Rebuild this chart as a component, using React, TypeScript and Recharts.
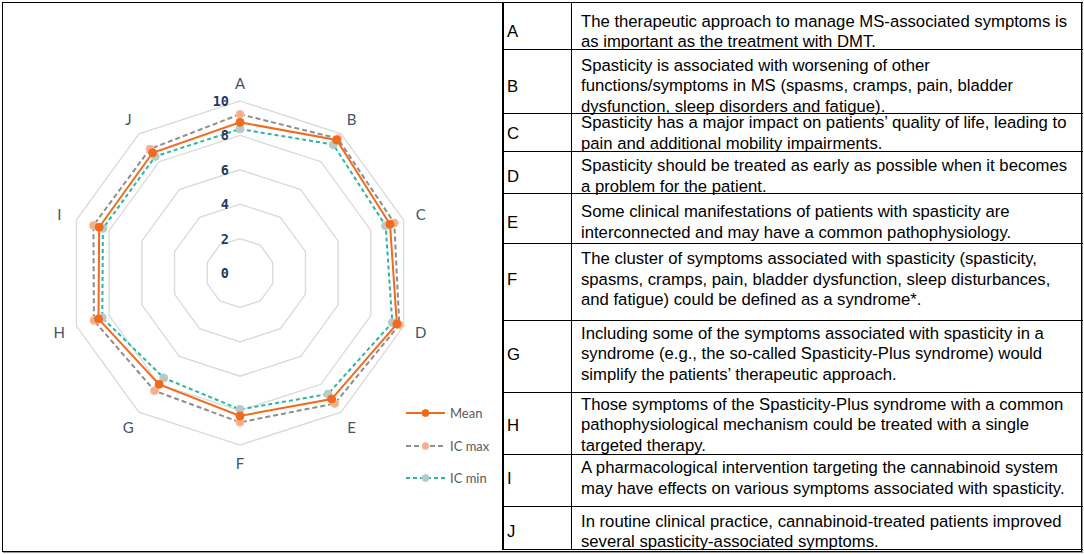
import React from 'react'
import { RadarChart, Radar, PolarGrid, PolarAngleAxis, PolarRadiusAxis, Legend } from 'recharts'

// statements A..J, scored 0-10
const CATEGORIES = ['A', 'B', 'C', 'D', 'E', 'F', 'G', 'H', 'I', 'J']
const MEAN = [8.76, 9.56, 9.17, 9.59, 9.06, 8.31, 8.0, 8.65, 8.61, 8.64]
const IC_MAX = [9.23, 9.67, 9.43, 9.74, 9.38, 8.68, 8.46, 8.93, 8.96, 8.91]
const IC_MIN = [8.37, 9.23, 8.9, 9.31, 8.7, 7.93, 7.54, 8.42, 8.38, 8.38]
const RADIUS_TICKS = [0, 2, 4, 6, 8, 10]

const STATEMENTS = [
  'The therapeutic approach to manage MS-associated symptoms is\nas important as the treatment with DMT.',
  'Spasticity is associated with worsening of other\nfunctions/symptoms in MS (spasms, cramps, pain, bladder\ndysfunction, sleep disorders and fatigue).',
  'Spasticity has a major impact on patients’ quality of life, leading to\npain and additional mobility impairments.',
  'Spasticity should be treated as early as possible when it becomes\na problem for the patient.',
  'Some clinical manifestations of patients with spasticity are\ninterconnected and may have a common pathophysiology.',
  'The cluster of symptoms associated with spasticity (spasticity,\nspasms, cramps, pain, bladder dysfunction, sleep disturbances,\nand fatigue) could be defined as a syndrome*.',
  'Including some of the symptoms associated with spasticity in a\nsyndrome (e.g., the so-called Spasticity-Plus syndrome) would\nsimplify the patients’ therapeutic approach.',
  'Those symptoms of the Spasticity-Plus syndrome with a common\npathophysiological mechanism could be treated with a single\ntargeted therapy.',
  'A pharmacological intervention targeting the cannabinoid system\nmay have effects on various symptoms associated with spasticity.',
  'In routine clinical practice, cannabinoid-treated patients improved\nseveral spasticity-associated symptoms.',
]

// table layout only: row heights and vertical nudge of the cell text
const ROW_HEIGHTS = [48, 64, 38, 42, 50, 77, 72, 62, 52, 43]
const ROW_SHIFT = [6, 5, 1, 4, 4, -2, -2, 2, -2, 4]

const data = CATEGORIES.map((c, i) => ({
  cat: c,
  mean: MEAN[i],
  icMax: IC_MAX[i],
  icMin: IC_MIN[i],
}))

const SERIES = [
  { key: 'icMax', name: 'IC max', stroke: '#8e8e8e', dash: '5 3', dotFill: '#f5ad8a', dotStroke: '#f7c3a8' },
  { key: 'icMin', name: 'IC min', stroke: '#2cb5a3', dash: '4 3', dotFill: '#c4c4c4', dotStroke: '#9fd8cf' },
  { key: 'mean', name: 'Mean', stroke: '#f26a1b', dash: undefined, dotFill: '#f26a1b', dotStroke: '#f26a1b' },
]

const CX = 237
const CY = 270
const OUTER = 172

const AngleTick = ({ x, y, payload }: any) => {
  const dx = x - CX
  const dy = y - CY
  const len = Math.hypot(dx, dy) || 1
  const r = 190
  return (
    <text
      x={CX + (dx / len) * r}
      y={CY + (dy / len) * r}
      textAnchor="middle"
      dominantBaseline="central"
      fill="#44546a"
      fontSize={15}
      fontFamily="Lato, sans-serif"
    >
      {payload.value}
    </text>
  )
}

const RadiusTick = ({ x, y, payload }: any) => (
  <text
    x={x - 11}
    y={y}
    textAnchor="end"
    dominantBaseline="central"
    fill="#1f3864"
    fontSize={13.5}
    fontWeight="bold"
    fontFamily="'DejaVu Sans Mono', monospace"
  >
    {payload.value}
  </text>
)

const makeDot = (s: any) => (p: any) => (
  <circle
    key={`${s.key}-${p.index}`}
    cx={p.cx}
    cy={p.cy}
    r={4}
    fill={s.dotFill}
    stroke={s.dotStroke}
    strokeWidth={1}
  />
)

const legendOrder = ['mean', 'icMax', 'icMin']

const renderLegend = () => (
  <div style={{ fontFamily: 'Lato, sans-serif', fontSize: 13, color: '#595959' }}>
    {legendOrder.map((k) => {
      const s = SERIES.find((x) => x.key === k)!
      return (
        <div key={k} style={{ display: 'flex', alignItems: 'center', height: 32.5 }}>
          <svg width={40} height={10}>
            <line x1={0} y1={5} x2={39} y2={5} stroke={s.stroke} strokeWidth={2} strokeDasharray={s.dash} />
            <circle cx={19.5} cy={5} r={3.5} fill={s.dotFill} stroke={s.dotStroke} strokeWidth={1} />
          </svg>
          <span style={{ marginLeft: 4 }}>{s.name}</span>
        </div>
      )
    })}
  </div>
)

export default function App() {
  return (
    <div style={{ position: 'fixed', left: 0, top: 0, width: 1084, height: 554, background: '#fff' }}>
      {/* outer frame */}
      <div
        style={{
          position: 'absolute',
          left: 2,
          top: 2,
          width: 1078,
          height: 548,
          border: '1px solid #000',
          boxShadow: '1px 1px 0 #9a9a9a',
        }}
      />
      <div style={{ position: 'absolute', left: 3, top: 3 }}>
        <RadarChart
          width={500}
          height={548}
          data={data}
          cx={CX}
          cy={CY}
          outerRadius={OUTER}
          margin={{ top: 0, right: 0, bottom: 0, left: 0 }}
        >
          <PolarGrid gridType="polygon" radialLines={false} stroke="#d9d9d9" strokeWidth={1.3} />
          <PolarAngleAxis dataKey="cat" tick={<AngleTick />} tickLine={false} axisLine={false} />
          <PolarRadiusAxis
            angle={90}
            domain={[0, 10]}
            ticks={RADIUS_TICKS as any}
            tickCount={6}
            tick={<RadiusTick />}
            axisLine={false}
            tickLine={false}
          />
          {SERIES.map((s) => (
            <Radar
              key={s.key}
              name={s.name}
              dataKey={s.key}
              stroke={s.stroke}
              strokeWidth={2}
              strokeDasharray={s.dash}
              fill="none"
              fillOpacity={0}
              dot={makeDot(s)}
              isAnimationActive={false}
            />
          ))}
          <Legend
            content={renderLegend}
            wrapperStyle={{ position: 'absolute', left: 403, top: 394, width: 100 }}
          />
        </RadarChart>
      </div>
      {/* statements table */}
      <div
        style={{
          position: 'absolute',
          left: 502,
          top: 2,
          width: 579,
          borderLeft: '2px solid #000',
          fontFamily: "'Liberation Sans', Arial, sans-serif",
          fontSize: 16.7,
          color: '#000',
        }}
      >
        {CATEGORIES.map((c, i) => (
          <div
            key={c}
            style={{
              display: 'flex',
              height: ROW_HEIGHTS[i],
              boxSizing: 'border-box',
              borderTop: i === 0 ? '1px solid #000' : 'none',
              borderBottom: '1px solid #000',
            }}
          >
            <div
              style={{
                width: 68,
                boxSizing: 'border-box',
                paddingLeft: 3,
                borderRight: '1px solid #000',
                display: 'flex',
                alignItems: 'center',
              }}
            >
              <span style={{ position: 'relative', top: ROW_SHIFT[i] }}>{c}</span>
            </div>
            <div
              style={{
                flex: 1,
                paddingLeft: 9,
                display: 'flex',
                alignItems: 'center',
                whiteSpace: 'pre-line',
                lineHeight: '20.5px',
              }}
            >
              <span style={{ position: 'relative', top: ROW_SHIFT[i] }}>{STATEMENTS[i]}</span>
            </div>
          </div>
        ))}
      </div>
    </div>
  )
}
